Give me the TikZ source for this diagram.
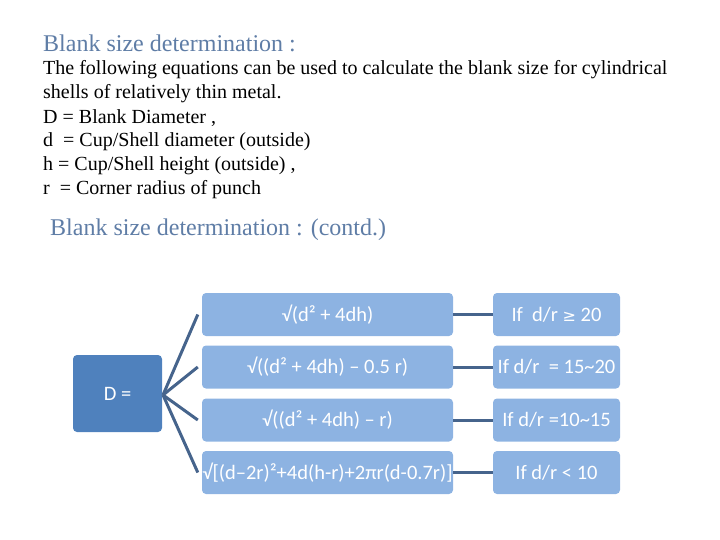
\documentclass[tikz,border=0pt]{standalone}
\usepackage{fontspec}
\setmainfont{Liberation Serif}
\newfontfamily\boxfont{Carlito}
\newfontfamily\symfont{DejaVu Sans}
\usetikzlibrary{positioning}
\definecolor{titleblue}{RGB}{95,125,166}
\definecolor{lightbox}{RGB}{141,179,226}
\definecolor{darkbox}{RGB}{79,129,189}
\definecolor{linkblue}{RGB}{70,100,140}
\tikzset{
  headline/.style={anchor=west,inner sep=0pt,text=titleblue,font=\fontsize{24}{28}\selectfont},
  bodyline/.style={anchor=west,inner sep=0pt,font=\fontsize{20}{24}\selectfont},
  formbox/.style={fill=lightbox,rounded corners=4pt,minimum width=251,minimum height=43,
    text=white,font=\boxfont\fontsize{20.5}{24}\selectfont,inner sep=0pt},
  condbox/.style={formbox,minimum width=127},
  link/.style={draw=linkblue,line width=3pt},
}
\begin{document}
\begin{tikzpicture}[x=1pt,y=-1pt]
\useasboundingbox (0,0) rectangle (720,540);
\node[headline] (head) at (43,43) {Blank size determination :};
\node[bodyline] (l1) at (43,70) {The following equations can be used to calculate the blank size for cylindrical};
\node[bodyline] (l2) at (43,94) {shells of relatively thin metal.};
\node[bodyline] (l3) at (43,118) {D = Blank Diameter ,};
\node[bodyline] (l4) at (43,142) {d \ = Cup/Shell diameter (outside)};
\node[bodyline] (l5) at (43,166) {h = Cup/Shell height (outside) ,};
\node[bodyline] (l6) at (43,190) {r \ = Corner radius of punch};
\node[headline] (head2) at (50,230) {Blank size determination : (contd.)};
% left box
\node[formbox,fill=darkbox,minimum width=89,minimum height=77] (dia) at (117.5,393.5) {D =};
\coordinate (fan) at (163,395);
% formulas
\node[formbox] (f1) at (327.5,314.5) {√(d² + 4dh)};
\node[formbox] (f2) at (327.5,367) {√((d² + 4dh) – 0.5 r)};
\node[formbox] (f3) at (327.5,420) {√((d² + 4dh) – r)};
\node[formbox] (f4) at (327.5,472.5) {√[(d–2r)²+4d(h-r)+2πr(d-0.7r)]};
% conditions
\node[condbox] (c1) at (556.5,314.5) {If \ d/r {\symfont\fontsize{16}{18}\selectfont ≥} 20};
\node[condbox] (c2) at (556.5,367) {If d/r \ = 15\textasciitilde20};
\node[condbox] (c3) at (556.5,420) {If d/r =10\textasciitilde15};
\node[condbox] (c4) at (556.5,472.5) {If d/r < 10};
\foreach \i in {1,...,4}{
  \draw[link] (fan) -- ([xshift=-4]f\i.west);
  \draw[link] (f\i.east) -- (c\i.west);
}
\end{tikzpicture}
\end{document}
